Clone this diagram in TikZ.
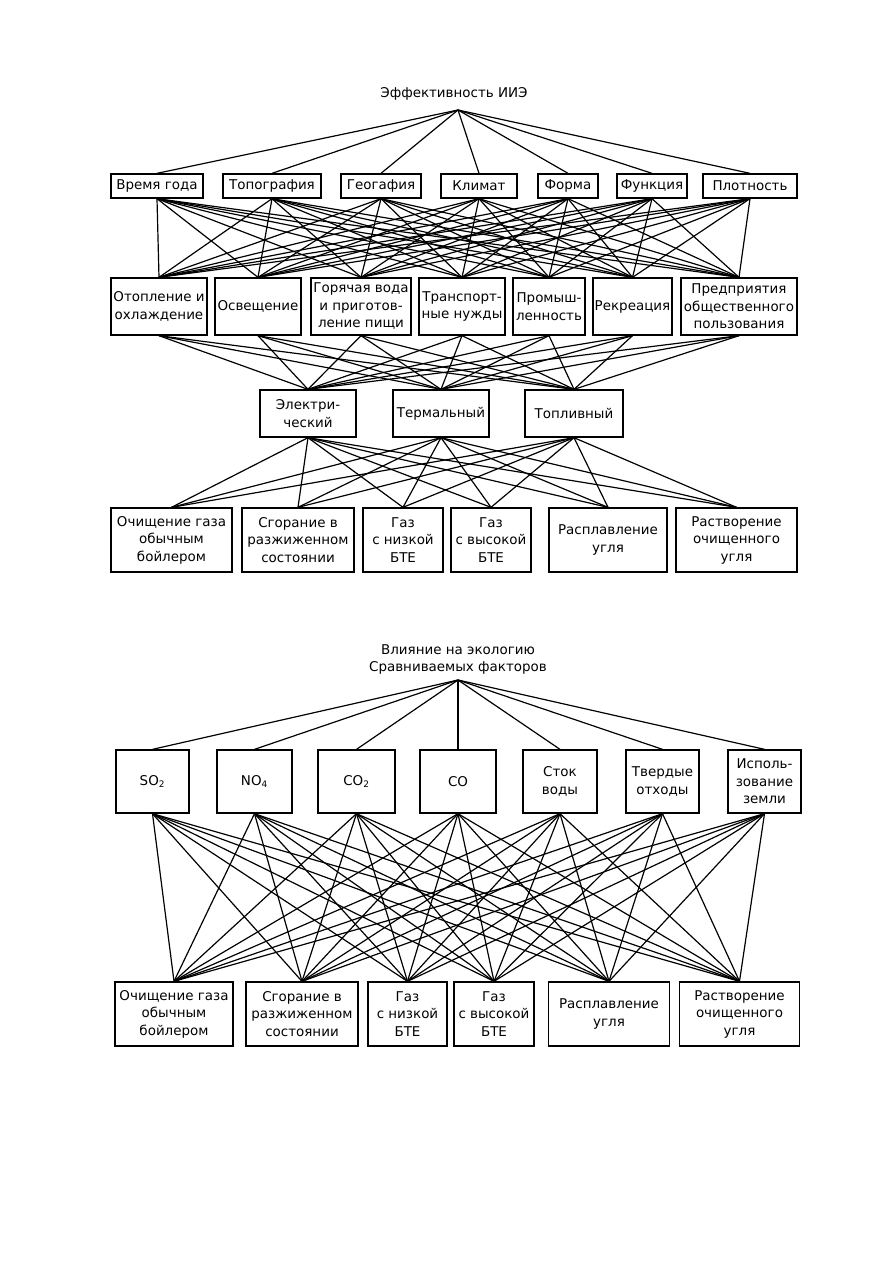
\documentclass[tikz,border=0pt]{standalone}
\usepackage{fontspec}
\setmainfont{DejaVu Sans}
\newlength\pxu
\setlength\pxu{0.23516mm}

\begin{document}
\begin{tikzpicture}[x=0.23516mm, y=-0.23516mm, font=\fontsize{9}{11.7}\selectfont,
  box/.style={draw, line width=0.9pt, align=center, inner sep=0pt},
  sz/.style 2 args={minimum width=#1\pxu, minimum height=#2\pxu},
  link/.style={line width=0.8pt}]
\useasboundingbox (0,0) rectangle (893,1263);

% upper hierarchy
\node (title1) at (454,94) {Эффективность ИИЭ};
\coordinate (apex1) at (458,110);

\node[box, sz={92}{24}] (t1) at (157,186) {Время года};
\node[box, sz={98}{24}] (t2) at (272,186) {Топография};
\node[box, sz={80}{24}] (t3) at (381,186) {Геогафия};
\node[box, sz={76}{24}] (t4) at (479,186) {Климат};
\node[box, sz={60}{24}] (t5) at (568,186) {Форма};
\node[box, sz={70}{24}] (t6) at (652,186) {Функция};
\node[box, sz={94}{24}] (t7) at (750,186) {Плотность};

\node[box, sz={96}{57}] (m1) at (159,306.5) {Отопление и\\охлаждение};
\node[box, sz={86}{57}] (m2) at (258,306.5) {Освещение};
\node[box, sz={100}{57}] (m3) at (361,306.5) {Горячая вода\\и приготов-\\ление пищи};
\node[box, sz={86}{57}] (m4) at (462,306.5) {Транспорт-\\ные нужды};
\node[box, sz={72}{57}] (m5) at (549,306.5) {Промыш-\\ленность};
\node[box, sz={79}{57}] (m6) at (632.5,306.5) {Рекреация};
\node[box, sz={116}{57}] (m7) at (739,306.5) {Предприятия\\общественного\\пользования};

\node[box, sz={96}{47}] (e1) at (308,413.5) {Электри-\\ческий};
\node[box, sz={96}{47}] (e2) at (441,413.5) {Термальный};
\node[box, sz={98}{47}] (e3) at (574,413.5) {Топливный};

\node[box, sz={121}{64}] (b1) at (171.5,540) {Очищение газа\\обычным\\бойлером};
\node[box, sz={112}{64}] (b2) at (298,540) {Сгорание в\\разжиженном\\состоянии};
\node[box, sz={80}{64}] (b3) at (403,540) {Газ\\с низкой\\БТЕ};
\node[box, sz={80}{64}] (b4) at (491,540) {Газ\\с высокой\\БТЕ};
\node[box, sz={118}{64}] (b5) at (608,540) {Расплавление\\угля};
\node[box, sz={121}{64}] (b6) at (736.5,540) {Растворение\\очищенного\\угля};

\foreach \i in {1,...,7} \draw[link] (apex1) -- (t\i.north);
\foreach \i in {1,...,7}
  \foreach \j in {1,...,7} \draw[link] (t\i.south) -- (m\j.north);
\foreach \i in {1,...,7}
  \foreach \j in {1,2,3} \draw[link] (m\i.south) -- (e\j.north);
\foreach \i in {1,2,3}
  \foreach \j in {1,...,6} \draw[link] (e\i.south) -- (b\j.north);

% lower hierarchy
\node[align=center] (title2) at (458,659.5) {Влияние на экологию\\Сравниваемых факторов};
\coordinate (apex2) at (458,680);

\node[box, sz={73}{63}] (f1) at (152.5,781.5) {SO\textsubscript{2}};
\node[box, sz={75}{63}] (f2) at (254.5,781.5) {NO\textsubscript{4}};
\node[box, sz={77}{63}] (f3) at (356.5,781.5) {CO\textsubscript{2}};
\node[box, sz={76}{63}] (f4) at (458,781.5) {CO};
\node[box, sz={74}{63}] (f5) at (560,781.5) {Сток\\воды};
\node[box, sz={73}{63}] (f6) at (662.5,781.5) {Твердые\\отходы};
\node[box, sz={73}{63}] (f7) at (764.5,781.5) {Исполь-\\зование\\земли};

\node[box, sz={118}{64}] (g1) at (174,1014) {Очищение газа\\обычным\\бойлером};
\node[box, sz={112}{64}] (g2) at (302,1014) {Сгорание в\\разжиженном\\состоянии};
\node[box, sz={79}{64}] (g3) at (407.5,1014) {Газ\\с низкой\\БТЕ};
\node[box, sz={80}{64}] (g4) at (494,1014) {Газ\\с высокой\\БТЕ};
\node[box, sz={121}{64}] (g5) at (609,1014) {Расплавление\\угля};
\node[box, sz={120}{64}] (g6) at (739.5,1014) {Растворение\\очищенного\\угля};

\foreach \i in {1,...,7} \draw[link] (apex2) -- (f\i.north);
\foreach \i in {1,...,7}
  \foreach \j in {1,...,6} \draw[link] (f\i.south) -- (g\j.north);

\end{tikzpicture}
\end{document}
